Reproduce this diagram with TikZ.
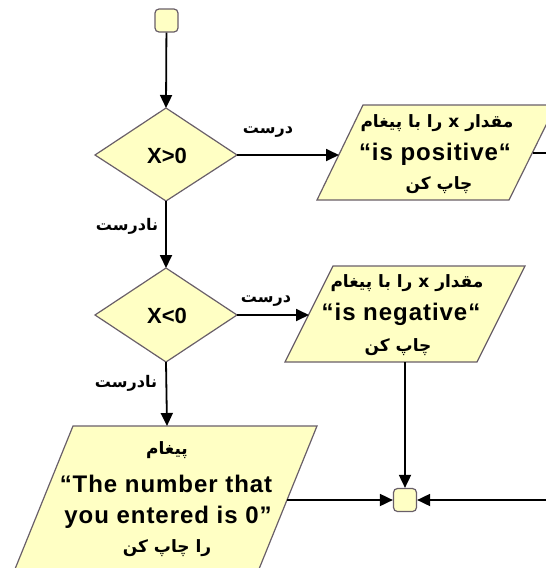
\documentclass[tikz,border=0pt]{standalone}
\usepackage{fontspec}
\setmainfont{Liberation Sans}
\newfontfamily\en[LetterSpace=4]{Liberation Sans}
\newfontfamily\fa[Script=Arabic]{DejaVu Sans}
\TeXXeTstate=1
\usetikzlibrary{arrows.meta}
\definecolor{fillY}{RGB}{255,255,196}
\definecolor{edgeG}{RGB}{105,95,105}
\tikzset{
 shapeline/.style={draw=edgeG, fill=fillY, line width=1.2pt},
 smallbox/.style={shapeline, rounded corners=4pt, minimum size=23pt, inner sep=0pt},
 flow/.style={line width=1.8pt, -{Triangle[length=13pt,width=12pt]}},
 entxt/.style={font=\en\bfseries\fontsize{24}{24}\selectfont, inner sep=0pt},
 condtxt/.style={font=\bfseries\fontsize{22}{22}\selectfont, inner sep=0pt},
 fatxt/.style={font=\fa\bfseries\fontsize{17}{17}\selectfont, inner sep=0pt},
 lbl/.style={font=\fa\bfseries\fontsize{16}{16}\selectfont, inner sep=0pt},
}
\begin{document}
\begin{tikzpicture}[x=1pt,y=-1pt]
\useasboundingbox (0,0) rectangle (546,568);
\clip (0,0) rectangle (546,568);
% start and merge
\node[smallbox] (start) at (166.5,20.5) {};
\node[smallbox] (merge) at (405,500) {};
% diamonds
\filldraw[shapeline] (166,108) coordinate (d1t) -- (237,155) coordinate (d1r) -- (166,201) coordinate (d1b) -- (95,155) -- cycle;
\node[condtxt] (c1) at (167,156) {X>0};
\filldraw[shapeline] (166,268) coordinate (d2t) -- (237,315) coordinate (d2r) -- (166,362) coordinate (d2b) -- (95,315) -- cycle;
\node[condtxt] (c2) at (167,316) {X<0};
% parallelogram 1
\filldraw[shapeline] (363,105) -- (556,105) -- (509,200) -- (317,200) -- cycle;
\coordinate (p1l) at (339,155);
\coordinate (p1r) at (533,153);
\node[fatxt] (p1a) at (437,123) {\beginR مقدار x را با پیغام\endR};
\node[entxt] (p1b) at (435,154) {“is positive“};
\node[fatxt] (p1c) at (439,185) {\beginR چاپ کن\endR};
% parallelogram 2
\filldraw[shapeline] (333,266) -- (525,266) -- (477,362) -- (285,362) -- cycle;
\coordinate (p2l) at (309,315);
\coordinate (p2b) at (405,362);
\node[fatxt] (p2a) at (407,283) {\beginR مقدار x را با پیغام\endR};
\node[entxt] (p2b2) at (401,314) {“is negative“};
\node[fatxt] (p2c) at (398,347) {\beginR چاپ کن\endR};
% parallelogram 3
\filldraw[shapeline] (73,426) -- (317,426) -- (257,574) -- (13,574) -- cycle;
\coordinate (p3t) at (167,426);
\coordinate (p3r) at (287,500);
\node[fatxt] (p3a) at (167,450) {\beginR پیغام\endR};
\node[entxt] (p3b) at (166,484) {“The number that};
\node[entxt] (p3c) at (168,517) {you entered is 0”};
\node[fatxt] (p3d) at (167,548) {\beginR را چاپ کن\endR};
% off-picture route
\coordinate (r1) at (600,153);
\coordinate (r2) at (600,500);
% connectors
\draw[flow] (start) -- (d1t);
\draw[flow] (d1r) -- (p1l);
\draw[flow] (d1b) -- (d2t);
\draw[flow] (d2r) -- (p2l);
\draw[flow] (d2b) -- (p3t);
\draw[flow] (p2b) -- (merge);
\draw[flow] (p3r) -- (merge);
\draw[flow] (p1r) -- (r1) -- (r2) -- (merge);
% labels
\node[lbl] (l1) at (268,132) {\beginR درست\endR};
\node[lbl] (l2) at (266,301) {\beginR درست\endR};
\node[lbl] (l3) at (127,226) {\beginR نادرست\endR};
\node[lbl] (l4) at (126,383) {\beginR نادرست\endR};
\end{tikzpicture}
\end{document}
